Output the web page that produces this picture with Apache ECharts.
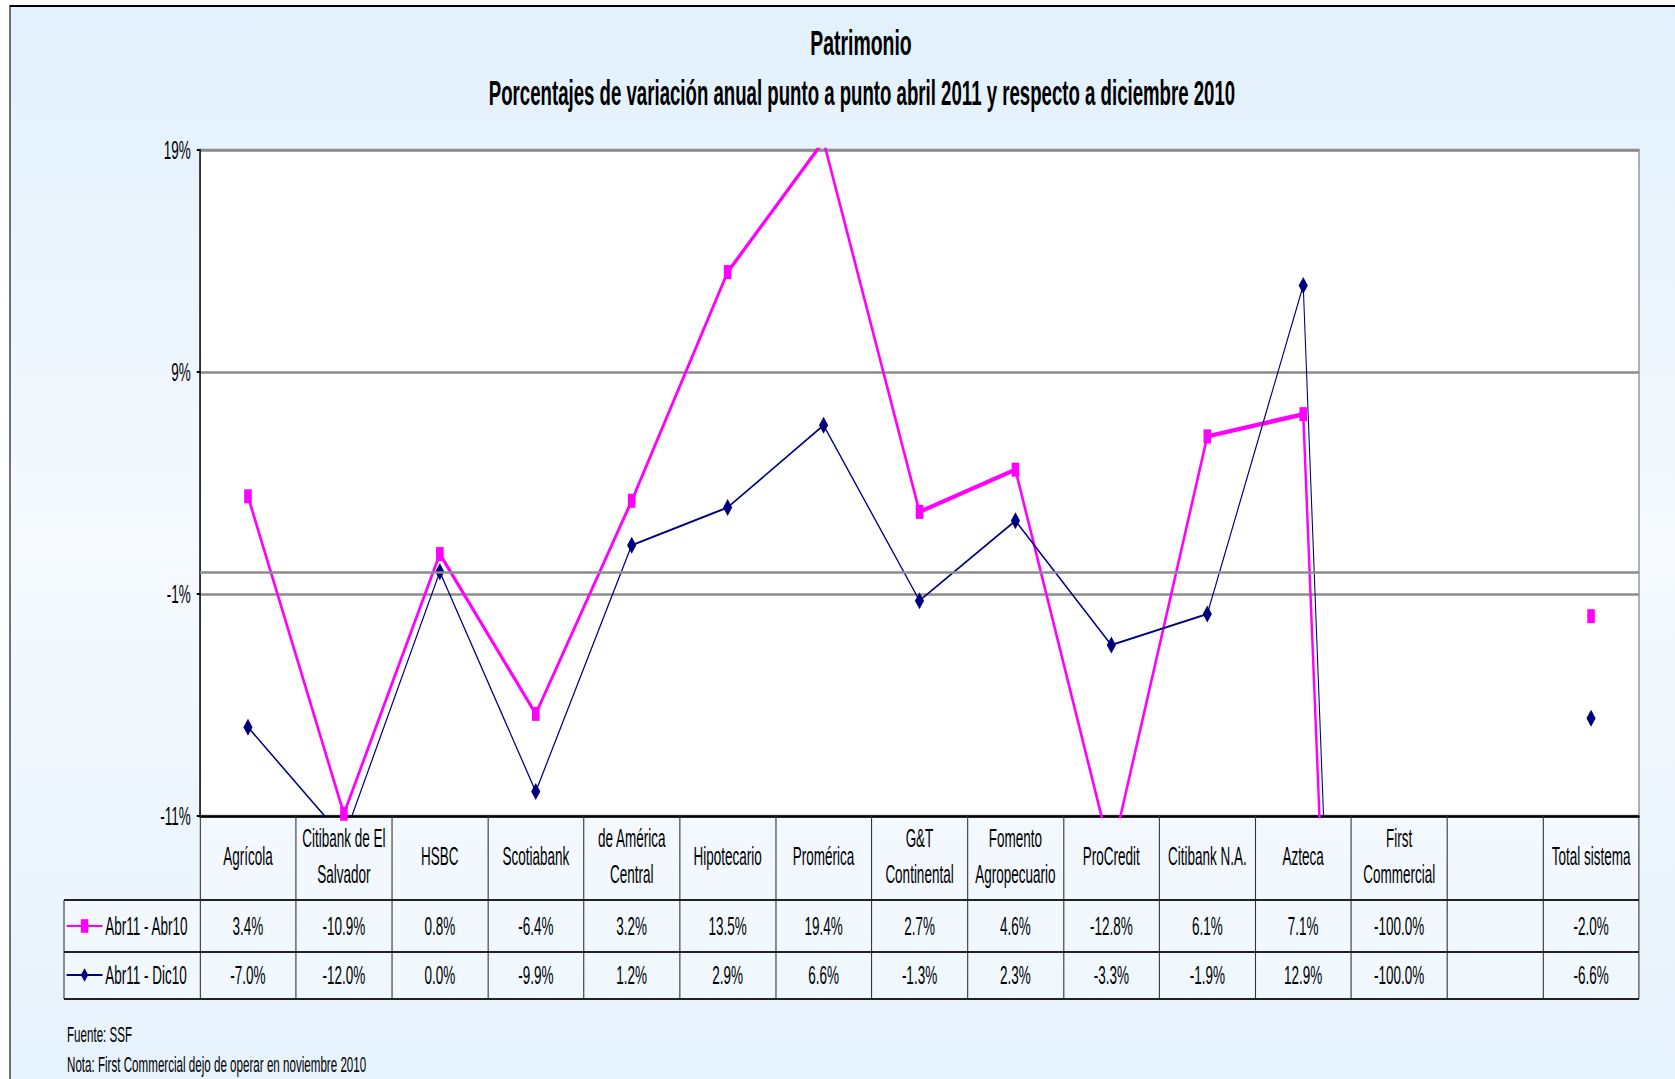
<!DOCTYPE html>
<html><head><meta charset="utf-8">
<script src="https://cdn.jsdelivr.net/npm/echarts@6/dist/echarts.min.js"></script>
<style>
html,body{margin:0;padding:0;overflow:hidden;background:#fff;width:1675px;height:1079px}
#wrap{position:absolute;left:0;top:0;height:1079px;transform-origin:0 0}
</style></head><body>
<div id="wrap"></div>
<script>
// ---- data ----
const titleText = 'Patrimonio';
const subtitleText = 'Porcentajes de variación anual punto a punto abril 2011 y respecto a diciembre 2010';
const categories = ['Agrícola','Citibank de El\nSalvador','HSBC','Scotiabank','de América\nCentral','Hipotecario','Promérica','G&T\nContinental','Fomento\nAgropecuario','ProCredit','Citibank N.A.','Azteca','First\nCommercial','','Total sistema'];
const seriesNames = ['Abr11 - Abr10','Abr11 - Dic10'];
const abrAbr = [3.4,-10.9,0.8,-6.4,3.2,13.5,19.4,2.7,4.6,-12.8,6.1,7.1,-100.0,null,-2.0];
const abrDic = [-7.0,-12.0,0.0,-9.9,1.2,2.9,6.6,-1.3,2.3,-3.3,-1.9,12.9,-100.0,null,-6.6];
const yTicks = [-11,-1,9,19];
const notes = ['Fuente: SSF','Nota: First Commercial dejo de operar en noviembre 2010'];

// ---- layout (horizontal compression like the original picture) ----
const S = 0.54;
const W = Math.ceil(1675 / S);
const X = v => v / S;
const FONT = "'Liberation Sans', Arial, sans-serif";
const PINK = '#FF00FF', NAVY = '#000080';
const wrap = document.getElementById('wrap');
wrap.style.width = W + 'px';
wrap.style.transform = 'scaleX(' + S + ')';

const gridL = 200, gridR = 1639, gridT = 150, gridB = 816;
const row1T = 900, row2T = 952, rowEnd = 999, legL = 64;

const chart = echarts.init(wrap, null, {renderer: 'svg', width: W, height: 1079});

const option = {
  animation: false,
  textStyle: {fontFamily: FONT},
  grid: {
    left: X(gridL), top: gridT, width: X(gridR) - X(gridL), height: gridB - gridT,
    show: true, backgroundColor: '#ffffff', borderColor: '#8c8c8c', borderWidth: 2.5,
    containLabel: false
  },
  legend: {
    orient: 'vertical', left: X(66), top: 911, padding: 0,
    itemWidth: X(36), itemHeight: 17, itemGap: 19, selectedMode: false,
    textStyle: {fontSize: 25, lineHeight: 30, color: '#000', fontFamily: FONT},
    data: seriesNames
  },
  xAxis: {
    type: 'category', data: categories, boundaryGap: true,
    axisLine: {show: true, onZero: false, lineStyle: {color: '#000', width: 2.5}},
    axisTick: {show: true, interval: 0, length: rowEnd - gridB, lineStyle: {color: '#333', width: 2}},
    axisLabel: {interval: 0, margin: 40, verticalAlign: 'middle', lineHeight: 36, fontSize: 25, color: '#000', fontFamily: FONT},
    splitLine: {show: false}
  },
  yAxis: {
    type: 'value', min: yTicks[0], max: yTicks[yTicks.length - 1], interval: yTicks[1] - yTicks[0],
    axisLine: {show: true, lineStyle: {color: '#000', width: 2.5}},
    axisTick: {show: true, length: 6, lineStyle: {color: '#000', width: 2}},
    axisLabel: {formatter: v => v + '%', fontSize: 25, color: '#000', margin: 17, fontFamily: FONT},
    splitLine: {show: true, lineStyle: {color: '#8c8c8c', width: 2.5}}
  },
  series: [
    {
      name: seriesNames[0], type: 'line', data: abrAbr, clip: true, connectNulls: false,
      symbol: 'rect', symbolSize: 14, showSymbol: true, showAllSymbol: true,
      lineStyle: {color: PINK, width: 4.5}, itemStyle: {color: PINK},
      emphasis: {disabled: true},
      markLine: {
        silent: true, symbol: 'none', label: {show: false},
        lineStyle: {color: '#8c8c8c', width: 2.5, type: 'solid'},
        emphasis: {disabled: true},
        data: [{yAxis: 0}]
      }
    },
    {
      name: seriesNames[1], type: 'line', data: abrDic, clip: true, connectNulls: false,
      symbol: 'diamond', symbolSize: 17, showSymbol: true, showAllSymbol: true,
      lineStyle: {color: NAVY, width: 2}, itemStyle: {color: NAVY},
      emphasis: {disabled: true}
    }
  ]
};
chart.setOption(option);

// ---- data table, titles, notes ----
const fmt = v => (v === null || v === undefined) ? '' : v.toFixed(1) + '%';
const g = [];
g.push({
  type: 'rect', z: -10, silent: true,
  shape: {x: X(10), y: 6, width: W, height: 1200},
  style: {
    fill: {type: 'linear', x: 0, y: 0, x2: 0, y2: 1, colorStops: [
      {offset: 0, color: '#E1F0FC'}, {offset: 0.45, color: '#F6FAFE'}, {offset: 1, color: '#E2F0FC'}]},
    stroke: '#000', lineWidth: 2
  }
});
g.push({type: 'rect', z: -5, silent: true, shape: {x: X(gridL), y: gridB, width: X(gridR) - X(gridL), height: row1T - gridB}, style: {fill: 'rgba(255,255,255,0.35)'}});
g.push({type: 'rect', z: -5, silent: true, shape: {x: X(legL), y: row1T, width: X(gridR) - X(legL), height: rowEnd - row1T}, style: {fill: 'rgba(255,255,255,0.35)'}});
[row1T, row2T, rowEnd].forEach(y => {
  g.push({type: 'line', silent: true, z: 5, shape: {x1: X(legL), y1: y, x2: X(gridR), y2: y}, style: {stroke: '#222', lineWidth: 2}});
});
g.push({type: 'line', silent: true, z: 5, shape: {x1: X(legL), y1: row1T, x2: X(legL), y2: rowEnd}, style: {stroke: '#333', lineWidth: 2}});

const rows = [abrAbr, abrDic];
const rowY = [926, 975];
categories.forEach((c, i) => {
  const px = chart.convertToPixel({xAxisIndex: 0}, i);
  rows.forEach((arr, r) => {
    g.push({type: 'text', silent: true, z: 6, x: px, y: rowY[r],
      style: {text: fmt(arr[i]), fill: '#000', fontSize: 25, fontFamily: FONT, align: 'center', verticalAlign: 'middle', textAlign: 'center', textVerticalAlign: 'middle'}});
  });
});
g.push({type: 'text', silent: true, x: X(861), y: 43,
  style: {text: titleText, fill: '#000', fontSize: 36, fontWeight: 'bold', fontFamily: FONT, align: 'center', verticalAlign: 'middle', textAlign: 'center', textVerticalAlign: 'middle'}});
g.push({type: 'text', silent: true, x: X(862), y: 93,
  style: {text: subtitleText, fill: '#000', fontSize: 34.5, fontWeight: 'bold', fontFamily: FONT, align: 'center', verticalAlign: 'middle', textAlign: 'center', textVerticalAlign: 'middle'}});
g.push({type: 'text', silent: true, x: X(67), y: 1035,
  style: {text: notes[0], fill: '#000', fontSize: 21.5, fontFamily: FONT, align: 'left', verticalAlign: 'middle', textAlign: 'left', textVerticalAlign: 'middle'}});
g.push({type: 'text', silent: true, x: X(67), y: 1065,
  style: {text: notes[1], fill: '#000', fontSize: 21.5, fontFamily: FONT, align: 'left', verticalAlign: 'middle', textAlign: 'left', textVerticalAlign: 'middle'}});
chart.setOption({graphic: {elements: g}});
</script>
</body></html>
